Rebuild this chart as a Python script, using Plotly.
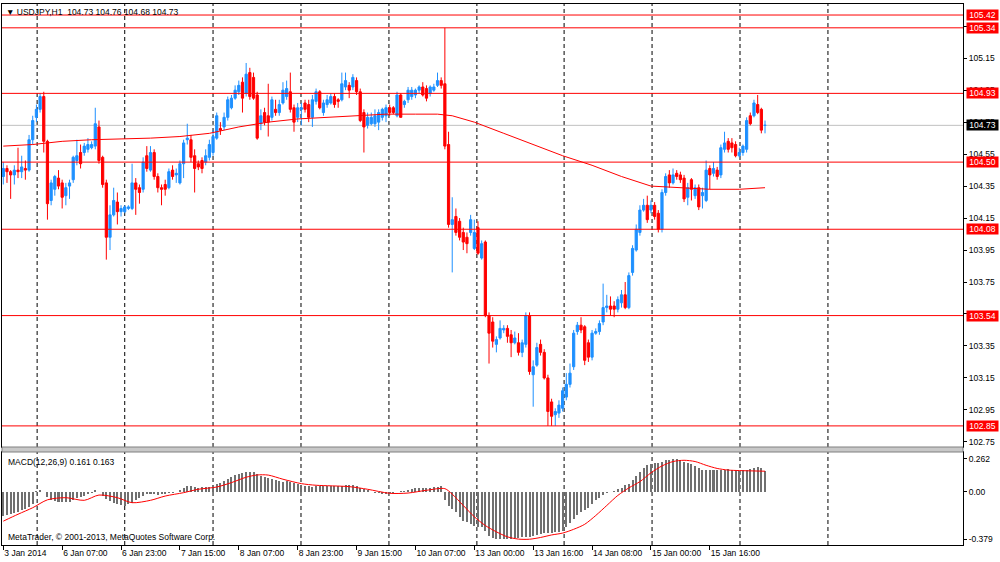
import plotly.graph_objects as go

# ---------------- data (USDJPY H1) ----------------
opens = [
    104.41, 104.46, 104.44, 104.42, 104.45, 104.44, 104.46, 104.45,
    104.64, 104.78, 104.83, 104.91, 104.63, 104.26, 104.33, 104.40,
    104.37, 104.29, 104.35, 104.39, 104.51, 104.56, 104.56, 104.58,
    104.59, 104.60, 104.72, 104.53, 104.37, 104.03, 104.17, 104.25,
    104.19, 104.19, 104.21, 104.21, 104.37, 104.34, 104.33, 104.54,
    104.45, 104.56, 104.41, 104.34, 104.36, 104.34, 104.45, 104.42,
    104.37, 104.49, 104.64, 104.64, 104.54, 104.49, 104.51, 104.50,
    104.53, 104.56, 104.65, 104.71, 104.72, 104.78, 104.84, 104.90,
    104.94, 105.00, 104.93, 105.06, 105.03, 104.92, 104.74, 104.81,
    104.79, 104.78, 104.83, 104.81, 104.87, 104.91, 104.94, 104.84,
    104.78, 104.83, 104.87, 104.86, 104.78, 104.88, 104.94, 104.81,
    104.86, 104.87, 104.91, 104.89, 104.89, 104.97, 104.98, 104.97,
    105.01, 104.94, 104.81, 104.73, 104.74, 104.74, 104.75, 104.78,
    104.79, 104.84, 104.84, 104.79, 104.92, 104.86, 104.89, 104.91,
    104.92, 104.95, 104.97, 104.96, 104.93, 104.95, 104.98, 105.01,
    104.99, 104.61, 104.11, 104.16, 104.13, 104.06, 104.03, 104.06,
    103.96, 104.09, 103.90, 104.00, 103.54, 103.50, 103.36, 103.40,
    103.45, 103.46, 103.42, 103.37, 103.37, 103.31, 103.36, 103.54,
    103.17, 103.23, 103.36, 103.31, 103.15, 103.00, 102.92, 102.93,
    102.96, 103.03, 103.11, 103.22, 103.44, 103.48, 103.47, 103.37,
    103.28, 103.43, 103.44, 103.50, 103.59, 103.60, 103.60, 103.58,
    103.62, 103.67, 103.59, 103.81, 103.95, 104.06, 104.20, 104.23,
    104.20, 104.23, 104.18, 104.08, 104.31, 104.42, 104.37, 104.43,
    104.42, 104.40, 104.28, 104.39, 104.29, 104.34, 104.29, 104.26,
    104.46, 104.43, 104.45, 104.42, 104.58, 104.63, 104.62, 104.61,
    104.54, 104.56, 104.58, 104.79, 104.79, 104.86, 104.83, 104.73,
]
highs = [
    104.50, 104.48, 104.45, 104.48, 104.59, 104.54, 104.51, 104.67,
    104.79, 104.86, 104.93, 104.94, 104.64, 104.39, 104.42, 104.45,
    104.39, 104.37, 104.39, 104.54, 104.64, 104.61, 104.62, 104.65,
    104.63, 104.84, 104.76, 104.54, 104.39, 104.23, 104.34, 104.31,
    104.23, 104.23, 104.23, 104.49, 104.40, 104.36, 104.53, 104.60,
    104.60, 104.58, 104.43, 104.36, 104.39, 104.46, 104.48, 104.46,
    104.51, 104.64, 104.74, 104.67, 104.58, 104.51, 104.53, 104.58,
    104.64, 104.70, 104.81, 104.75, 104.81, 104.91, 104.92, 104.98,
    105.01, 105.03, 105.12, 105.09, 105.06, 104.94, 104.83, 104.84,
    104.99, 104.91, 104.89, 104.89, 105.00, 105.01, 105.06, 104.86,
    104.87, 104.87, 104.89, 104.89, 104.92, 104.96, 104.95, 104.89,
    104.92, 104.93, 104.93, 104.90, 105.06, 105.06, 105.00, 105.05,
    105.03, 104.96, 104.83, 104.81, 104.81, 104.83, 104.83, 104.84,
    104.86, 104.86, 104.85, 104.94, 104.93, 104.89, 104.97, 104.97,
    104.96, 104.98, 105.00, 104.98, 104.98, 104.99, 105.06, 105.03,
    105.34, 104.69, 104.28, 104.21, 104.15, 104.09, 104.06, 104.17,
    104.14, 104.13, 104.01, 104.01, 103.56, 103.53, 103.41, 103.51,
    103.48, 103.48, 103.45, 103.44, 103.43, 103.39, 103.56, 103.56,
    103.26, 103.37, 103.39, 103.33, 103.17, 103.02, 102.96, 103.01,
    103.09, 103.18, 103.24, 103.45, 103.50, 103.53, 103.48, 103.39,
    103.45, 103.46, 103.51, 103.74, 103.67, 103.66, 103.63, 103.66,
    103.70, 103.75, 103.81, 103.98, 104.11, 104.23, 104.27, 104.29,
    104.26, 104.25, 104.20, 104.33, 104.43, 104.45, 104.46, 104.45,
    104.44, 104.42, 104.37, 104.40, 104.36, 104.36, 104.34, 104.51,
    104.48, 104.50, 104.47, 104.61, 104.69, 104.65, 104.65, 104.63,
    104.59, 104.61, 104.78, 104.81, 104.89, 104.92, 104.84, 104.76,
]
lows = [
    104.36, 104.37, 104.27, 104.36, 104.40, 104.40, 104.39, 104.44,
    104.61, 104.75, 104.81, 104.56, 104.14, 104.23, 104.29, 104.33,
    104.21, 104.23, 104.27, 104.37, 104.48, 104.46, 104.54, 104.56,
    104.58, 104.58, 104.49, 104.34, 103.89, 103.95, 104.16, 104.11,
    104.16, 104.18, 104.20, 104.20, 104.17, 104.24, 104.31, 104.44,
    104.44, 104.39, 104.31, 104.23, 104.29, 104.33, 104.39, 104.37,
    104.36, 104.40, 104.61, 104.50, 104.31, 104.45, 104.43, 104.48,
    104.51, 104.54, 104.64, 104.67, 104.70, 104.76, 104.83, 104.89,
    104.92, 104.81, 104.91, 104.89, 104.89, 104.64, 104.70, 104.73,
    104.66, 104.76, 104.79, 104.79, 104.86, 104.89, 104.81, 104.69,
    104.75, 104.73, 104.81, 104.75, 104.72, 104.86, 104.83, 104.79,
    104.84, 104.86, 104.84, 104.84, 104.88, 104.95, 104.90, 104.95,
    104.92, 104.75, 104.56, 104.71, 104.73, 104.72, 104.70, 104.76,
    104.75, 104.79, 104.80, 104.78, 104.78, 104.84, 104.87, 104.89,
    104.90, 104.93, 104.91, 104.88, 104.91, 104.94, 104.97, 104.96,
    104.58, 104.09, 103.81, 104.04, 104.01, 103.95, 103.93, 104.04,
    103.95, 103.92, 103.89, 103.53, 103.24, 103.34, 103.31, 103.39,
    103.43, 103.37, 103.28, 103.36, 103.29, 103.28, 103.34, 103.17,
    102.97, 103.22, 103.29, 103.14, 102.85, 102.85, 102.85, 102.90,
    102.94, 103.01, 103.09, 103.20, 103.42, 103.43, 103.23, 103.25,
    103.26, 103.42, 103.42, 103.48, 103.56, 103.54, 103.53, 103.56,
    103.59, 103.58, 103.58, 103.79, 103.94, 104.04, 104.19, 104.12,
    104.18, 104.14, 104.06, 104.06, 104.29, 104.34, 104.36, 104.39,
    104.37, 104.25, 104.23, 104.26, 104.27, 104.20, 104.21, 104.25,
    104.33, 104.41, 104.39, 104.40, 104.56, 104.56, 104.56, 104.53,
    104.53, 104.54, 104.56, 104.73, 104.78, 104.80, 104.68, 104.68,
]
closes = [
    104.46, 104.44, 104.42, 104.45, 104.44, 104.47, 104.45, 104.64,
    104.76, 104.83, 104.91, 104.63, 104.24, 104.37, 104.41, 104.35,
    104.28, 104.34, 104.37, 104.53, 104.54, 104.49, 104.60, 104.61,
    104.61, 104.74, 104.51, 104.36, 104.03, 104.17, 104.26, 104.19,
    104.21, 104.22, 104.22, 104.37, 104.33, 104.31, 104.50, 104.46,
    104.56, 104.41, 104.34, 104.33, 104.33, 104.44, 104.41, 104.43,
    104.49, 104.62, 104.65, 104.53, 104.46, 104.47, 104.46, 104.54,
    104.61, 104.66, 104.79, 104.70, 104.78, 104.89, 104.90, 104.95,
    104.98, 104.90, 105.05, 104.91, 104.90, 104.65, 104.79, 104.75,
    104.75, 104.89, 104.81, 104.86, 104.95, 104.96, 104.83, 104.75,
    104.84, 104.84, 104.83, 104.78, 104.89, 104.94, 104.84, 104.87,
    104.89, 104.91, 104.86, 104.88, 104.99, 105.01, 104.95, 105.03,
    104.94, 104.76, 104.72, 104.78, 104.78, 104.79, 104.81, 104.83,
    104.84, 104.81, 104.81, 104.92, 104.78, 104.88, 104.95, 104.95,
    104.95, 104.97, 104.92, 104.90, 104.97, 104.97, 105.01, 104.98,
    104.60, 104.11, 104.14, 104.06, 104.03, 104.00, 103.99, 104.14,
    104.06, 103.93, 103.99, 103.54, 103.43, 103.38, 103.39, 103.46,
    103.46, 103.41, 103.37, 103.40, 103.31, 103.37, 103.54, 103.19,
    103.22, 103.34, 103.31, 103.15, 102.94, 102.91, 102.94, 102.98,
    103.07, 103.11, 103.18, 103.43, 103.48, 103.45, 103.26, 103.28,
    103.43, 103.44, 103.49, 103.59, 103.60, 103.58, 103.58, 103.64,
    103.67, 103.59, 103.79, 103.96, 104.08, 104.20, 104.23, 104.14,
    104.23, 104.16, 104.08, 104.31, 104.41, 104.37, 104.42, 104.41,
    104.39, 104.27, 104.34, 104.33, 104.34, 104.22, 104.31, 104.45,
    104.42, 104.46, 104.41, 104.59, 104.62, 104.58, 104.59, 104.54,
    104.56, 104.60, 104.76, 104.74, 104.87, 104.81, 104.70, 104.73,
]

# moving average (red line on price chart), read at selected bars
ma_bars = [0, 8, 16, 24, 32, 40, 48, 56, 64, 72, 80, 88, 96, 104, 112, 118,
           122, 128, 136, 144, 152, 160, 168, 176, 184, 192, 200, 207]
ma_vals = [104.60, 104.61, 104.63, 104.64, 104.645, 104.65, 104.66, 104.68,
           104.72, 104.75, 104.77, 104.78, 104.79, 104.80, 104.80, 104.80,
           104.79, 104.75, 104.68, 104.61, 104.54, 104.48, 104.41, 104.35,
           104.34, 104.33, 104.33, 104.34]

# MACD(12,26,9) main values (histogram)
macd = [
    -0.195, -0.187, -0.181, -0.171, -0.160, -0.149, -0.139, -0.123,
    -0.096, 0.005, 0.011, -0.002, -0.043, -0.069, -0.075, -0.080,
    -0.083, -0.083, -0.080, -0.069, -0.053, -0.043, -0.032, -0.021,
    -0.008, 0.011, -0.002, -0.035, -0.061, -0.075, -0.088, -0.101,
    -0.107, -0.115, -0.101, -0.088, -0.069, -0.053, -0.035, -0.021,
    -0.016, -0.021, -0.027, -0.021, -0.016, -0.011, -0.008, -0.002,
    0.011, 0.027, 0.043, 0.043, 0.037, 0.032, 0.037, 0.037,
    0.040, 0.053, 0.064, 0.072, 0.085, 0.099, 0.117, 0.133,
    0.144, 0.152, 0.157, 0.160, 0.157, 0.144, 0.125, 0.117,
    0.107, 0.099, 0.091, 0.085, 0.080, 0.085, 0.080, 0.069,
    0.059, 0.053, 0.048, 0.043, 0.040, 0.043, 0.043, 0.043,
    0.043, 0.045, 0.045, 0.043, 0.048, 0.053, 0.053, 0.056,
    0.043, 0.032, 0.021, 0.011, -0.002, -0.008, -0.013, -0.016,
    -0.016, -0.013, -0.011, -0.005, 0.003, 0.008, 0.016, 0.021,
    0.027, 0.027, 0.029, 0.029, 0.032, 0.035, 0.037, 0.043,
    -0.065, -0.115, -0.141, -0.160, -0.203, -0.230, -0.243, -0.261,
    -0.275, -0.283, -0.283, -0.315, -0.355, -0.372, -0.379, -0.379,
    -0.379, -0.378, -0.376, -0.372, -0.369, -0.365, -0.360, -0.358,
    -0.355, -0.342, -0.336, -0.331, -0.328, -0.328, -0.323, -0.320,
    -0.310, -0.283, -0.248, -0.214, -0.187, -0.160, -0.149, -0.128,
    -0.101, -0.069, -0.048, -0.029, -0.013, -0.003, 0.008, 0.019,
    0.032, 0.051, 0.064, 0.091, 0.125, 0.160, 0.187, 0.214,
    0.224, 0.230, 0.230, 0.240, 0.251, 0.256, 0.259, 0.262,
    0.251, 0.240, 0.230, 0.219, 0.206, 0.192, 0.171, 0.176,
    0.176, 0.174, 0.171, 0.171, 0.171, 0.179, 0.171, 0.171,
    0.166, 0.171, 0.176, 0.179, 0.192, 0.200, 0.192, 0.161,
]

# MACD signal line, read at selected bars
sig_bars = [0, 4, 8, 12, 17, 22, 26, 31, 35, 40, 44, 49, 53, 58, 62, 66, 69, 72,
            76, 81, 85, 94, 99, 105, 110, 115, 120, 122, 125, 128, 131, 134, 137,
            140, 143, 146, 149, 152, 155, 158, 161, 164, 167, 170, 173, 176, 179,
            182, 185, 188, 191, 194, 197, 200, 204, 207]
sig_vals = [-0.235, -0.18, -0.128, -0.065, -0.048, -0.069, -0.027, -0.048, -0.088,
            -0.069, -0.035, -0.008, 0.019, 0.037, 0.072, 0.115, 0.133, 0.132,
            0.099, 0.064, 0.051, 0.040, 0.019, -0.013, -0.011, 0.011, 0.024,
            -0.02, -0.11, -0.20, -0.27, -0.32, -0.36, -0.378, -0.379, -0.365,
            -0.345, -0.33, -0.30, -0.26, -0.19, -0.11, -0.03, 0.03, 0.08, 0.15,
            0.205, 0.24, 0.25, 0.24, 0.21, 0.185, 0.172, 0.168, 0.165, 0.163]

# horizontal levels (red) and current bid
levels = [105.42, 105.34, 104.93, 104.50, 104.08, 103.54, 102.85]
bid = 104.73

# time axis labels (bar index -> text)
tick_bars = [0, 16, 32, 48, 64, 80, 96, 112, 128, 144, 160, 176, 192]
tick_text = ["3 Jan 2014", "6 Jan 07:00", "6 Jan 23:00", "7 Jan 15:00",
             "8 Jan 07:00", "8 Jan 23:00", "9 Jan 15:00", "10 Jan 07:00",
             "13 Jan 00:00", "13 Jan 16:00", "14 Jan 08:00", "15 Jan 00:00",
             "15 Jan 16:00"]
price_ticks = [102.75, 102.95, 103.15, 103.35, 103.55, 103.75, 103.95, 104.15,
               104.35, 104.55, 104.75, 104.95, 105.15, 105.35]
macd_ticks = [-0.379, 0.0, 0.262]
macd_tick_text = ["-0.379", "0.00", "0.262"]

# ---------------- styling ----------------
FONT = "Liberation Sans"
FS = 8.5
BULL = "#1E90FF"
BEAR = "#FF0000"
bars_idx = list(range(len(closes)))

W, H = 1000, 562
ML, MR, MT, MB = 2, 37, 4, 17
plot_h = H - MT - MB
main_bottom_px = 447
macd_top_px = 452
main_dom0 = (H - MB - main_bottom_px) / plot_h
macd_dom1 = (H - MB - macd_top_px) / plot_h

fig = go.Figure()

fig.add_trace(go.Candlestick(
    x=bars_idx, open=opens, high=highs, low=lows, close=closes,
    increasing=dict(line=dict(color=BULL, width=1), fillcolor=BULL),
    decreasing=dict(line=dict(color=BEAR, width=1), fillcolor=BEAR),
    whiskerwidth=0, showlegend=False, hoverinfo="skip",
    xaxis="x", yaxis="y",
))
fig.add_trace(go.Scatter(
    x=ma_bars, y=ma_vals, mode="lines", line=dict(color="#FF0000", width=1),
    showlegend=False, hoverinfo="skip", xaxis="x", yaxis="y",
))
fig.add_trace(go.Bar(
    x=bars_idx, y=macd, width=0.55, marker=dict(color="#707070", line=dict(width=0)),
    showlegend=False, hoverinfo="skip", xaxis="x2", yaxis="y2",
))
fig.add_trace(go.Scatter(
    x=sig_bars, y=sig_vals, mode="lines",
    line=dict(color="#FF0000", width=1, shape="spline", smoothing=0.8),
    showlegend=False, hoverinfo="skip", xaxis="x2", yaxis="y2",
))

shapes = []
# vertical dashed grid (every ~24 bars)
grid_bars = [9.2, 33.0, 57.0, 80.9, 104.8, 128.7, 152.4, 176.3, 200.2, 224.1]
for g in grid_bars:
    shapes.append(dict(type="line", xref="x", yref="paper", x0=g, x1=g, y0=0, y1=1,
                       line=dict(color="black", width=1, dash="4px,3px"), layer="below"))
# bid line
shapes.append(dict(type="line", xref="paper", yref="y", x0=0, x1=1, y0=bid, y1=bid,
                   line=dict(color="#C0C0C0", width=1), layer="below"))
# level lines
for lv in levels:
    shapes.append(dict(type="line", xref="paper", yref="y", x0=0, x1=1, y0=lv, y1=lv,
                       line=dict(color="#FF0000", width=1), layer="above"))
# separator between panels
shapes.append(dict(type="rect", xref="paper", yref="paper", x0=0, x1=1,
                   y0=macd_dom1, y1=main_dom0, fillcolor="#C8C8C8",
                   line=dict(color="#808080", width=1), layer="above"))

annotations = []
for lv in levels:
    annotations.append(dict(xref="paper", yref="y", x=1, y=lv, xanchor="left", xshift=3,
                            text=f"{lv:.2f}", showarrow=False, bgcolor="#FF0000",
                            width=29, height=8, borderpad=1,
                            font=dict(family=FONT, size=FS, color="white")))
annotations.append(dict(xref="paper", yref="y", x=1, y=bid, xanchor="left", xshift=3,
                        text=f"{bid:.2f}", showarrow=False, bgcolor="black",
                        width=29, height=8, borderpad=1,
                        font=dict(family=FONT, size=FS, color="white")))
nb = "\u00a0"
annotations.append(dict(xref="paper", yref="paper", x=0, y=1, xanchor="left", yanchor="top",
                        xshift=2, yshift=-1, showarrow=False,
                        text=f"▼{nb}USDJPY,H1{nb}{nb}104.73{nb}104.76{nb}104.68{nb}104.73",
                        font=dict(family=FONT, size=FS, color="black")))
annotations.append(dict(xref="paper", yref="paper", x=0, y=macd_dom1, xanchor="left",
                        yanchor="top", xshift=4, yshift=-3, showarrow=False,
                        text="MACD(12,26,9) 0.161 0.163",
                        font=dict(family=FONT, size=FS, color="black")))
annotations.append(dict(xref="paper", yref="paper", x=0, y=0, xanchor="left",
                        yanchor="bottom", xshift=4, yshift=1, showarrow=False,
                        text="MetaTrader, © 2001-2013, MetaQuotes Software Corp.",
                        font=dict(family=FONT, size=FS, color="black")))

x_range = [-0.35, 260.8]
axis_common = dict(showline=True, linecolor="black", linewidth=1, mirror=True,
                   zeroline=False, showgrid=False)

fig.update_layout(
    width=W, height=H,
    margin=dict(l=ML, r=MR, t=MT, b=MB),
    paper_bgcolor="white", plot_bgcolor="white",
    font=dict(family=FONT, size=FS, color="black"),
    boxgap=0.4, boxgroupgap=0,
    bargap=0,
    showlegend=False,
    xaxis=dict(domain=[0, 1], anchor="y", range=x_range, showticklabels=False,
               ticks="", rangeslider=dict(visible=False), **axis_common),
    yaxis=dict(domain=[main_dom0, 1], anchor="x", range=[102.718, 105.489],
               side="right", tickmode="array", tickvals=price_ticks,
               ticktext=[f"{t:.2f}" for t in price_ticks], ticks="outside",
               ticklen=3, tickcolor="black", tickfont=dict(family=FONT, size=FS),
               **axis_common),
    xaxis2=dict(domain=[0, 1], anchor="y2", range=x_range, matches="x",
                tickmode="array", tickvals=tick_bars, ticktext=tick_text,
                ticks="outside", ticklen=4, tickcolor="black",
                ticklabelposition="outside right",
                tickfont=dict(family=FONT, size=FS), **axis_common),
    yaxis2=dict(domain=[0, macd_dom1], anchor="x2", range=[-0.425, 0.316],
                side="right", tickmode="array", tickvals=macd_ticks,
                ticktext=macd_tick_text, ticks="outside", ticklen=3,
                tickcolor="black", tickfont=dict(family=FONT, size=FS),
                **axis_common),
    shapes=shapes,
    annotations=annotations,
)

fig.write_html(
    "out.html",
    config={"displayModeBar": False, "staticPlot": True},
    post_script="document.body.style.margin='0';document.body.style.overflow='hidden';",
)
